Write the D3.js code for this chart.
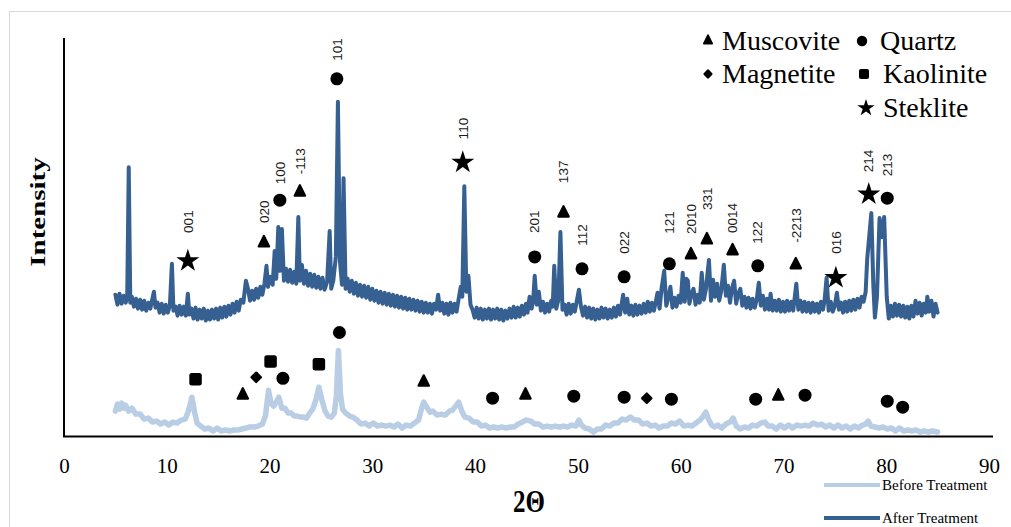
<!DOCTYPE html>
<html><head><meta charset="utf-8">
<script src="https://cdn.jsdelivr.net/npm/d3@7"></script>
<style>body{margin:0;background:#fff}svg{display:block}</style>
</head><body>
<svg id="chart" width="1011" height="527"></svg>
<script>
// XRD patterns: [2θ (deg), intensity (a.u.)]
const beforePattern = [
[5.0,25],[5.2,32],[5.4,27],[5.6,33],[5.8,28],[6.0,31],[6.3,25],[6.6,28],[7.0,22],[7.4,22],[7.8,17],[8.2,18],[8.6,14],[9.0,15],[9.4,12],[9.8,14],[10.2,11],[10.6,14],[11.0,13],[11.4,16],[11.8,17],[12.1,25],[12.45,39],[12.7,24],[12.95,13],[13.3,10],[13.7,7],[14.1,8],[14.5,5],[14.9,8],[15.3,5],[15.7,6],[16.1,5],[16.5,6],[16.9,6],[17.3,7],[17.7,8],[18.1,9],[18.5,9],[18.9,10],[19.3,12],[19.6,20],[19.9,46],[20.15,33],[20.4,30],[20.65,34],[20.9,39],[21.2,28],[21.5,28],[21.8,23],[22.1,23],[22.4,20],[22.7,20],[23.0,19],[23.3,19],[23.6,18],[23.9,23],[24.2,27],[24.5,36],[24.8,49],[25.1,36],[25.4,25],[25.7,20],[26.0,19],[26.3,23],[26.5,40],[26.7,86],[26.9,42],[27.1,27],[27.4,23],[27.8,20],[28.1,19],[28.5,16],[28.9,12],[29.3,13],[29.7,10],[30.1,13],[30.5,10],[30.9,11],[31.3,10],[31.7,11],[32.1,9],[32.5,12],[32.9,8],[33.3,11],[33.7,10],[34.1,13],[34.5,16],[34.8,28],[35.0,34],[35.3,29],[35.6,24],[35.9,25],[36.3,21],[36.7,22],[37.1,21],[37.5,25],[37.8,26],[38.1,30],[38.4,34],[38.7,25],[39.0,19],[39.4,18],[39.8,14],[40.2,14],[40.6,10],[41.0,11],[41.4,8],[41.8,9],[42.2,8],[42.6,9],[43.0,8],[43.4,9],[43.8,9],[44.2,12],[44.6,14],[45.0,16],[45.4,15],[45.8,12],[46.2,12],[46.6,9],[47.0,10],[47.4,9],[47.8,10],[48.2,9],[48.6,10],[49.0,9],[49.4,11],[49.8,10],[50.1,16],[50.35,11],[50.7,8],[51.1,7],[51.5,4],[51.9,7],[52.3,7],[52.7,11],[53.1,10],[53.5,13],[53.9,13],[54.3,17],[54.7,16],[55.1,19],[55.5,16],[55.9,16],[56.3,12],[56.7,13],[57.1,10],[57.5,11],[57.9,8],[58.3,10],[58.7,10],[59.1,13],[59.5,12],[59.9,15],[60.3,10],[60.7,11],[61.1,10],[61.5,13],[61.9,16],[62.2,20],[62.45,24],[62.7,17],[63.0,11],[63.3,9],[63.6,11],[64.0,8],[64.4,12],[64.8,14],[65.1,18],[65.4,10],[65.8,7],[66.2,9],[66.6,8],[67.0,11],[67.4,10],[67.8,13],[68.2,14],[68.5,10],[68.9,10],[69.3,7],[69.7,11],[70.1,8],[70.5,11],[70.9,8],[71.3,11],[71.7,10],[72.1,11],[72.5,10],[72.9,13],[73.3,11],[73.7,12],[74.1,9],[74.5,11],[74.9,8],[75.3,11],[75.7,8],[76.1,10],[76.5,7],[76.9,10],[77.3,8],[77.7,11],[78.0,12],[78.25,15],[78.5,10],[78.9,9],[79.3,8],[79.7,9],[80.1,7],[80.5,8],[80.9,5],[81.3,8],[81.7,5],[82.1,6],[82.5,5],[82.9,6],[83.3,4],[83.7,5],[84.1,4],[84.5,5],[85.0,4]
];
const afterPattern = [
[5.0,142],[5.2,132],[5.4,143],[5.6,133],[5.8,141],[6.0,134],[6.15,140],[6.3,270],[6.45,134],[6.6,140],[6.8,130],[7.0,138],[7.2,128],[7.4,137],[7.6,127],[7.8,136],[8.0,126],[8.2,134],[8.4,128],[8.6,138],[8.75,145],[8.9,129],[9.1,134],[9.3,124],[9.5,133],[9.7,123],[9.9,132],[10.1,124],[10.3,131],[10.5,173],[10.65,126],[10.85,130],[11.05,121],[11.25,131],[11.45,122],[11.65,130],[11.85,121],[12.05,143],[12.2,122],[12.4,128],[12.6,118],[12.8,129],[13.0,117],[13.2,127],[13.4,118],[13.6,128],[13.8,116],[14.0,126],[14.2,117],[14.4,127],[14.6,118],[14.8,128],[15.0,117],[15.2,129],[15.4,119],[15.6,130],[15.8,120],[16.0,131],[16.2,122],[16.4,133],[16.6,124],[16.8,135],[17.0,126],[17.2,137],[17.45,134],[17.7,156],[17.9,148],[18.1,136],[18.3,146],[18.5,137],[18.7,148],[18.9,139],[19.1,150],[19.3,142],[19.5,153],[19.7,171],[19.85,150],[20.05,160],[20.3,152],[20.5,186],[20.65,158],[20.85,210],[21.0,166],[21.2,208],[21.4,156],[21.6,168],[21.8,155],[22.0,167],[22.2,154],[22.4,165],[22.6,153],[22.8,220],[22.95,156],[23.15,172],[23.35,153],[23.55,166],[23.75,151],[23.95,163],[24.15,150],[24.35,162],[24.55,149],[24.75,160],[24.95,148],[25.15,159],[25.35,147],[25.6,155],[25.85,206],[26.0,148],[26.2,156],[26.45,180],[26.65,336],[26.85,175],[27.05,152],[27.2,259],[27.4,148],[27.6,158],[27.8,145],[28.0,156],[28.2,143],[28.4,154],[28.6,141],[28.8,152],[29.0,140],[29.2,151],[29.4,139],[29.6,150],[29.8,137],[30.0,148],[30.2,136],[30.4,146],[30.6,134],[30.8,145],[31.0,133],[31.2,144],[31.4,132],[31.6,143],[31.8,131],[32.0,142],[32.2,130],[32.4,141],[32.6,129],[32.8,140],[33.0,128],[33.2,139],[33.4,127],[33.6,138],[33.8,127],[34.0,137],[34.2,126],[34.4,136],[34.6,125],[34.8,135],[35.0,124],[35.2,134],[35.4,124],[35.6,133],[35.8,123],[36.0,133],[36.2,127],[36.4,142],[36.6,126],[36.8,134],[37.0,123],[37.2,133],[37.4,122],[37.6,134],[37.8,124],[38.0,133],[38.2,125],[38.4,138],[38.6,150],[38.75,140],[38.95,251],[39.15,145],[39.35,161],[39.55,132],[39.75,127],[39.95,119],[40.15,129],[40.35,118],[40.55,128],[40.75,117],[40.95,127],[41.15,118],[41.35,128],[41.55,117],[41.75,127],[41.95,118],[42.15,128],[42.35,117],[42.55,127],[42.75,116],[42.95,126],[43.15,118],[43.35,128],[43.55,119],[43.75,130],[43.95,119],[44.15,129],[44.35,120],[44.55,131],[44.75,122],[44.95,133],[45.1,124],[45.3,140],[45.5,128],[45.65,136],[45.8,161],[46.0,132],[46.2,145],[46.4,126],[46.6,135],[46.8,124],[47.0,133],[47.2,125],[47.4,136],[47.55,130],[47.7,171],[47.9,128],[48.1,137],[48.3,205],[48.5,127],[48.7,132],[48.9,122],[49.1,133],[49.3,123],[49.5,132],[49.7,125],[49.9,136],[50.1,147],[50.3,130],[50.5,121],[50.7,130],[50.9,119],[51.1,129],[51.3,118],[51.5,128],[51.7,117],[51.9,127],[52.1,118],[52.3,129],[52.5,119],[52.7,128],[52.9,118],[53.1,127],[53.3,119],[53.5,129],[53.7,120],[53.9,131],[54.1,122],[54.4,142],[54.6,124],[54.8,138],[55.0,122],[55.2,131],[55.4,121],[55.6,132],[55.8,122],[56.0,131],[56.2,123],[56.4,133],[56.6,124],[56.8,135],[57.0,125],[57.2,134],[57.4,126],[57.6,136],[57.75,144],[57.95,128],[58.15,149],[58.4,166],[58.6,131],[58.8,139],[59.0,150],[59.2,129],[59.4,139],[59.6,130],[59.8,141],[60.0,134],[60.2,164],[60.4,135],[60.55,158],[60.7,156],[60.85,133],[61.05,143],[61.25,148],[61.45,132],[61.65,142],[61.85,134],[62.05,164],[62.25,137],[62.45,147],[62.75,177],[62.95,136],[63.15,157],[63.35,140],[63.55,153],[63.75,136],[63.95,146],[64.2,172],[64.4,141],[64.6,151],[64.8,134],[65.0,149],[65.2,156],[65.4,133],[65.6,143],[65.8,148],[66.0,131],[66.2,140],[66.4,129],[66.6,139],[66.8,128],[67.0,138],[67.2,129],[67.4,137],[67.6,154],[67.8,131],[68.0,141],[68.2,127],[68.4,138],[68.6,127],[68.75,143],[68.95,126],[69.15,136],[69.35,126],[69.55,137],[69.75,125],[69.95,135],[70.15,125],[70.35,136],[70.55,126],[70.75,135],[70.95,126],[71.25,153],[71.45,127],[71.65,136],[71.85,125],[72.05,135],[72.25,125],[72.45,134],[72.65,124],[72.85,134],[73.05,125],[73.25,133],[73.45,124],[73.65,135],[73.85,127],[74.0,136],[74.2,159],[74.4,126],[74.6,135],[74.8,125],[75.0,131],[75.2,144],[75.4,127],[75.6,134],[75.8,124],[76.0,135],[76.2,125],[76.4,136],[76.6,126],[76.8,137],[77.0,127],[77.2,138],[77.4,129],[77.6,140],[77.8,135],[78.0,145],[78.15,178],[78.55,224],[78.75,150],[78.9,119],[79.1,140],[79.35,219],[79.55,200],[79.8,220],[80.05,140],[80.25,118],[80.45,131],[80.65,120],[80.85,133],[81.05,121],[81.25,132],[81.45,120],[81.65,131],[81.85,119],[82.05,130],[82.25,118],[82.45,131],[82.65,120],[82.85,136],[83.05,123],[83.25,134],[83.45,121],[83.65,133],[83.85,124],[84.0,140],[84.2,125],[84.4,136],[84.6,120],[84.8,133],[85.0,124]
];

const xTicks = [0, 10, 20, 30, 40, 50, 60, 70, 80, 90];
const seriesNames = ["Before Treatment", "After Treatment"];

// Phase codes: M Muscovite, Q Quartz, G Magnetite, K Kaolinite, S Steklite
const phaseCodes = ["M", "Q", "G", "K", "S"];
const phaseNames = ["Muscovite", "Quartz", "Magnetite", "Kaolinite", "Steklite"];

// Indexed reflections above the treated pattern
const afterPeakTheta = [12.05, 19.45, 21.0, 22.95, 26.55, 38.8, 45.8, 48.6, 50.4, 54.5, 58.9, 61.0, 62.55, 65.05, 67.5, 71.2, 75.1, 78.3, 80.1];
const afterPeakLevel = [177, 195, 237, 246, 359, 276, 180, 225, 168, 160, 173, 183, 198, 187, 171, 173, 160, 244, 239];
const afterPeakPhase = ["S", "M", "Q", "M", "Q", "S", "Q", "M", "Q", "Q", "Q", "M", "M", "M", "Q", "M", "S", "S", "Q"];
const afterPeakHkl = ["001", "020", "100", "-113", "101", "110", "201", "137", "112", "022", "121", "2010", "331", "0014", "122", "-2213", "016", "214", "213"];

// Phase markers above the untreated pattern
const beforePeakTheta = [12.8, 17.4, 18.7, 20.1, 21.3, 24.8, 26.8, 35.0, 41.7, 44.9, 49.6, 54.5, 56.7, 59.1, 67.3, 69.5, 72.1, 80.1, 81.6];
const beforePeakLevel = [57, 42, 59, 75, 58, 72, 104, 55, 38, 42, 40, 39, 38, 37, 37, 41, 41, 35, 29];
const beforePeakPhase = ["K", "M", "G", "K", "Q", "K", "Q", "M", "Q", "M", "Q", "Q", "G", "Q", "Q", "M", "Q", "Q", "Q"];

// ---- drawing ----
const W = 1011, H = 527;
const colBefore = "#B9CDE5", colAfter = "#376092";
const svg = d3.select("#chart");

// chart frame
svg.append("rect").attr("x", 9.5).attr("y", 11.5).attr("width", W).attr("height", H)
  .attr("fill", "none").attr("stroke", "#d9d9d9").attr("stroke-width", 1);

const x = d3.scaleLinear().domain([0, 90]).range([64, 989]);
const y = d3.scaleLinear().domain([0, 400]).range([436, 38]);

const line = d3.line().x(d => x(d[0])).y(d => y(d[1]));

svg.append("path").datum(beforePattern).attr("d", line)
  .attr("fill", "none").attr("stroke", colBefore).attr("stroke-width", 5.5)
  .attr("stroke-linejoin", "round").attr("stroke-linecap", "round");
svg.append("path").datum(afterPattern).attr("d", line)
  .attr("fill", "none").attr("stroke", colAfter).attr("stroke-width", 4)
  .attr("stroke-linejoin", "round").attr("stroke-linecap", "round");

// axes
const xAxis = svg.append("g").attr("transform", "translate(0,436.5)")
  .call(d3.axisBottom(x).tickValues(xTicks).tickSize(0).tickPadding(22).tickFormat(d3.format("d")));
xAxis.select(".domain").remove();
xAxis.selectAll("text").attr("font-family", "Liberation Serif, Times New Roman, serif")
  .attr("font-size", 21).attr("fill", "#000");
svg.append("line").attr("x1", 63).attr("x2", 993).attr("y1", 436.5).attr("y2", 436.5)
  .attr("stroke", "#000").attr("stroke-width", 2);
svg.append("line").attr("x1", 64).attr("x2", 64).attr("y1", 38).attr("y2", 437)
  .attr("stroke", "#000").attr("stroke-width", 2);

svg.append("text").text("Intensity")
  .attr("transform", "translate(45,212) rotate(-90) scale(1.45,1)")
  .attr("text-anchor", "middle")
  .attr("font-family", "Liberation Serif, Times New Roman, serif")
  .attr("font-weight", "bold").attr("font-size", 20);
svg.append("text").text("2Θ")
  .attr("transform", "translate(529,512) scale(1,1.3)")
  .attr("text-anchor", "middle")
  .attr("font-family", "Liberation Serif, Times New Roman, serif")
  .attr("font-weight", "bold").attr("font-size", 25);

// phase marker shapes
function marker(g, code, cx, cy, s) {
  if (code === "Q") {
    g.append("circle").attr("cx", cx).attr("cy", cy).attr("r", 6.5 * s).attr("fill", "#000");
  } else if (code === "K") {
    const a = 12.5 * s;
    g.append("rect").attr("x", cx - a / 2).attr("y", cy - a / 2).attr("width", a).attr("height", a)
      .attr("rx", 2.5 * s).attr("fill", "#000");
  } else if (code === "G") {
    const a = 9 * s;
    g.append("rect").attr("x", -a / 2).attr("y", -a / 2).attr("width", a).attr("height", a)
      .attr("rx", 1.5 * s).attr("fill", "#000")
      .attr("transform", `translate(${cx},${cy}) rotate(45)`);
  } else if (code === "M") {
    const r = 5.2 * s;
    g.append("path").attr("d", `M${cx},${cy - r * 1.15}L${cx + r},${cy + r * 0.85}L${cx - r},${cy + r * 0.85}Z`)
      .attr("fill", "#000").attr("stroke", "#000").attr("stroke-width", 2.2 * s).attr("stroke-linejoin", "round");
  } else if (code === "S") {
    g.append("path").attr("d", d3.symbol(d3.symbolStar, 165 * s * s)())
      .attr("transform", `translate(${cx},${cy + 1})`).attr("fill", "#000");
  }
}

// treated-pattern reflections with Miller indices
const labelLift = [27, 19, 16, 17, 18, 22, 24, 29, 23, 23, 30, 20, 29, 17, 22, 21, 23, 21, 22];
const gA = svg.append("g");
afterPeakTheta.forEach((t, i) => {
  const cx = x(t), cy = y(afterPeakLevel[i]);
  marker(gA, afterPeakPhase[i], cx, cy, 1);
  gA.append("text").text(afterPeakHkl[i])
    .attr("transform", `translate(${cx},${cy - labelLift[i]}) rotate(-90)`)
    .attr("dy", "0.35em")
    .attr("font-family", "Liberation Sans, Arial, sans-serif")
    .attr("font-size", 13.5).attr("fill", "#1a1a1a");
});

const gB = svg.append("g");
beforePeakTheta.forEach((t, i) => {
  marker(gB, beforePeakPhase[i], x(t), y(beforePeakLevel[i]), 1);
});

// phase legend
const legendSlots = [[708, 40], [862, 41], [708, 74], [864, 74], [866, 107]];
const legendText = [[722, 50], [880, 50], [722, 83], [883, 83], [883, 117]];
const gL = svg.append("g");
phaseCodes.forEach((c, i) => {
  marker(gL, c, legendSlots[i][0], legendSlots[i][1], c === "S" ? 0.75 : 0.8);
  gL.append("text").text(phaseNames[i]).attr("x", legendText[i][0]).attr("y", legendText[i][1])
    .attr("font-family", "Liberation Serif, Times New Roman, serif").attr("font-size", 28).attr("fill", "#000");
});

// series legend
const seriesColors = [colBefore, colAfter];
const seriesY = [485, 518];
seriesNames.forEach((n, i) => {
  svg.append("line").attr("x1", 824).attr("x2", 880).attr("y1", seriesY[i]).attr("y2", seriesY[i])
    .attr("stroke", seriesColors[i]).attr("stroke-width", 4);
  svg.append("text").text(n).attr("x", 882).attr("y", seriesY[i] + 5)
    .attr("font-family", "Liberation Serif, Times New Roman, serif").attr("font-size", 15).attr("fill", "#000");
});
</script>
</body></html>
